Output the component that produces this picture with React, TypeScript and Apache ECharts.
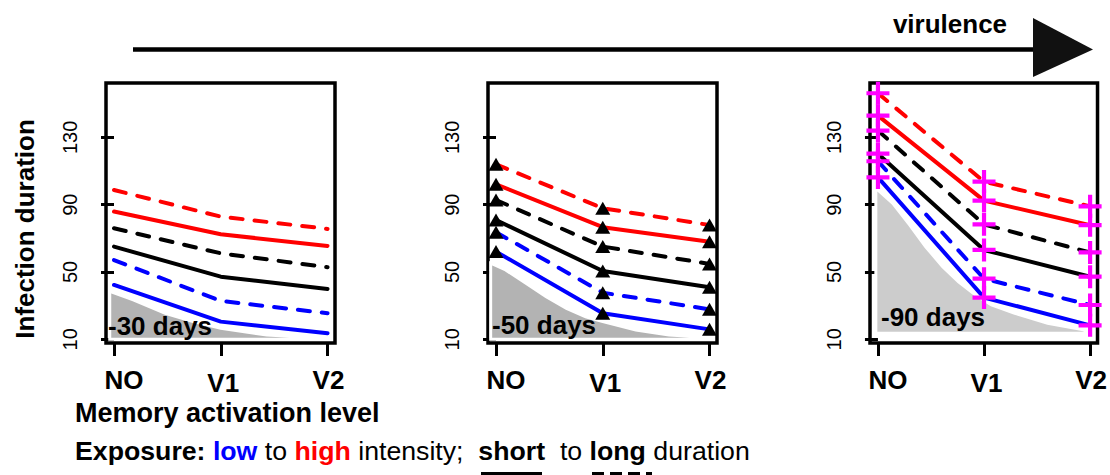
import React, { useEffect, useRef } from 'react';
import * as echarts from 'echarts';

const categories = ['NO', 'V1', 'V2'];
const catX = [0, 1, 2];
const yTickValues = [10, 50, 90, 130];
const panelLabels = ['-30 days', '-50 days', '-90 days'];

// Panel 1: -30 days
const p1RedDashed = [98.7, 82.9, 75.6];
const p1RedSolid = [85.9, 72.4, 65.5];
const p1BlackDashed = [76.0, 61.1, 52.8];
const p1BlackSolid = [65.1, 47.2, 39.9];
const p1BlueDashed = [57.1, 32.8, 25.5];
const p1BlueSolid = [42.3, 20.5, 13.6];
const p1GreyX = [-0.04, 0.18, 0.48, 0.74, 1.0, 1.43, 1.99];
const p1GreyY = [38.5, 33.4, 25.5, 20.5, 16.5, 12.6, 10.6];
const p1GreyBase = 10;

// Panel 2: -50 days
const p2RedDashed = [114.0, 87.9, 77.9];
const p2RedSolid = [102.1, 76.6, 68.0];
const p2BlackDashed = [92.8, 65.1, 54.8];
const p2BlackSolid = [80.9, 50.6, 40.9];
const p2BlueDashed = [73.6, 37.7, 27.8];
const p2BlueSolid = [62.1, 25.5, 15.9];
const p2GreyX = [-0.05, 0.09, 0.28, 0.47, 0.66, 0.84, 1.0, 1.31, 1.62, 1.97];
const p2GreyY = [55.2, 51.2, 43.3, 35.3, 28.4, 23.4, 20.5, 15.5, 12.6, 11.2];
const p2GreyBase = 10;

// Panel 3: -90 days
const p3RedDashed = [156.2, 103.7, 89.0];
const p3RedSolid = [142.9, 92.4, 77.8];
const p3BlackDashed = [134.0, 78.3, 61.6];
const p3BlackSolid = [120.3, 63.1, 47.2];
const p3BlueDashed = [115.8, 46.0, 30.4];
const p3BlueSolid = [106.2, 34.8, 18.3];
const p3GreyX = [-0.02, 0.14, 0.30, 0.45, 0.61, 0.76, 0.92, 1.07, 1.29, 1.60, 1.95];
const p3GreyY = [99.8, 90.8, 77.9, 65.0, 53.2, 44.2, 36.3, 30.4, 25.5, 19.5, 15.5];
const p3GreyBase = 13.6;

const FONT = '"Liberation Sans", Arial, Helvetica, sans-serif';

const RED = '#ff0000';
const BLUE = '#0000ff';
const BLACK = '#000000';
const MAGENTA = '#ff00ff';

const PLUS = 'path://M4.5,0h2v4.5h4.5v2h-4.5v4.5h-2v-4.5h-4.5v-2h4.5z';

const panels = [
  {
    lines: [p1RedDashed, p1RedSolid, p1BlackDashed, p1BlackSolid, p1BlueDashed, p1BlueSolid],
    greyX: p1GreyX, greyY: p1GreyY, greyBase: p1GreyBase, greyFill: '#b3b3b3',
    symbol: 'none', symbolSize: 0, symbolColor: BLACK,
    left: 106, label: { x: 108, y: 326 },
  },
  {
    lines: [p2RedDashed, p2RedSolid, p2BlackDashed, p2BlackSolid, p2BlueDashed, p2BlueSolid],
    greyX: p2GreyX, greyY: p2GreyY, greyBase: p2GreyBase, greyFill: '#b3b3b3',
    symbol: 'triangle', symbolSize: [15, 13], symbolColor: BLACK,
    left: 488, label: { x: 492, y: 325 },
  },
  {
    lines: [p3RedDashed, p3RedSolid, p3BlackDashed, p3BlackSolid, p3BlueDashed, p3BlueSolid],
    greyX: p3GreyX, greyY: p3GreyY, greyBase: p3GreyBase, greyFill: '#cccccc',
    symbol: PLUS, symbolSize: 23, symbolColor: MAGENTA,
    left: 870, label: { x: 881, y: 317 },
  },
];

const lineStyles = [
  { color: RED, dashed: true },
  { color: RED, dashed: false },
  { color: BLACK, dashed: true },
  { color: BLACK, dashed: false },
  { color: BLUE, dashed: true },
  { color: BLUE, dashed: false },
];

function buildOption() {
  const grid: any[] = [];
  const xAxis: any[] = [];
  const yAxis: any[] = [];
  const series: any[] = [];
  const graphic: any[] = [];

  panels.forEach((p, pi) => {
    grid.push({
      left: p.left, top: 83, width: 229, height: 260,
      show: true, borderColor: '#000', borderWidth: 3.5, backgroundColor: 'transparent',
      containLabel: false,
    });
    xAxis.push({
      type: 'value', gridIndex: pi, min: -0.075, max: 2.07,
      axisLine: { show: false },
      splitLine: { show: false },
      axisTick: { show: true, customValues: catX, length: 13, lineStyle: { color: '#000', width: 3 } },
      axisLabel: {
        customValues: catX,
        margin: 24,
        formatter: (v: number) => {
          const i = Math.round(v);
          return `{c${i}|${categories[i]}}`;
        },
        rich: {
          c0: { fontSize: 26, fontWeight: 'bold', fontFamily: FONT, color: '#000', padding: [0, 0, 0, 20] },
          c1: { fontSize: 26, fontWeight: 'bold', fontFamily: FONT, color: '#000', padding: [3, 0, 0, 5] },
          c2: { fontSize: 26, fontWeight: 'bold', fontFamily: FONT, color: '#000', padding: [0, 0, 0, 2] },
        },
      },
    });
    yAxis.push({
      type: 'value', gridIndex: pi, min: 7.8, max: 162.3,
      axisLine: { show: false },
      splitLine: { show: false },
      axisTick: { show: true, customValues: yTickValues, length: 13, lineStyle: { color: '#000', width: 3 } },
      axisLabel: {
        customValues: yTickValues,
        rotate: 90,
        margin: 26,
        fontSize: 20,
        fontFamily: FONT,
        color: '#000',
      },
    });

    const gx = p.greyX;
    const gy = p.greyY;
    const base = p.greyBase;
    const fill = p.greyFill;
    series.push({
      type: 'custom',
      xAxisIndex: pi, yAxisIndex: pi,
      z: 1,
      silent: true,
      data: gx.map((x, i) => [x, gy[i]]),
      encode: { x: 0, y: 1 },
      renderItem: (params: any, api: any) => {
        if (params.dataIndex !== 0) return null;
        const pts: number[][] = [];
        pts.push(api.coord([gx[0], base]));
        gx.forEach((x, i) => pts.push(api.coord([x, gy[i]])));
        pts.push(api.coord([gx[gx.length - 1], base]));
        return {
          type: 'polygon',
          shape: { points: pts },
          style: { fill, stroke: '#ffffff', lineWidth: 3 },
        };
      },
    });

    p.lines.forEach((vals, li) => {
      const st = lineStyles[li];
      series.push({
        type: 'line',
        xAxisIndex: pi, yAxisIndex: pi,
        z: 3,
        data: vals.map((v, i) => [catX[i], v]),
        symbol: p.symbol,
        symbolSize: p.symbolSize,
        showSymbol: p.symbol !== 'none',
        itemStyle: { color: p.symbolColor, opacity: 1 },
        lineStyle: {
          color: st.color, width: 4, cap: 'round',
          type: st.dashed ? [12, 12] : 'solid',
        },
        emphasis: { disabled: true },
      });
    });

    graphic.push({
      type: 'text', z: 10,
      style: {
        text: panelLabels[pi], x: p.label.x, y: p.label.y,
        verticalAlign: 'middle', align: 'left',
        font: `bold 26px ${FONT}`, fill: '#000',
      },
    });
  });

  // virulence arrow
  graphic.push({
    type: 'line', z: 10,
    shape: { x1: 133, y1: 49.5, x2: 1040, y2: 49.5 },
    style: { stroke: '#000', lineWidth: 4.5 },
  });
  graphic.push({
    type: 'polygon', z: 11,
    shape: { points: [[1033, 18], [1033, 77], [1093, 49.5]] },
    style: { fill: '#111' },
  });
  graphic.push({
    type: 'text', z: 10,
    style: {
      text: 'virulence', x: 950, y: 24, align: 'center', verticalAlign: 'middle',
      font: `bold 26px ${FONT}`, fill: '#000',
    },
  });
  // y title
  graphic.push({
    type: 'text', z: 10, x: 25, y: 229, rotation: Math.PI / 2,
    style: {
      text: 'Infection duration', x: 0, y: 0, align: 'center', verticalAlign: 'middle',
      font: `bold 26px ${FONT}`, fill: '#000',
    },
  });
  // x title
  graphic.push({
    type: 'text', z: 10,
    style: {
      text: 'Memory activation level', x: 75, y: 413, align: 'left', verticalAlign: 'middle',
      font: `bold 27px ${FONT}`, fill: '#000',
    },
  });
  // exposure legend
  graphic.push({
    type: 'text', z: 10,
    style: {
      text: '{b|Exposure:} {bl|low} to {rd|high} intensity;  {b|short}  to {b|long} duration',
      x: 75, y: 451, align: 'left', verticalAlign: 'middle',
      font: `26.7px ${FONT}`, fill: '#000',
      rich: {
        b: { fontWeight: 'bold', fontSize: 26.7, fontFamily: FONT, fill: '#000' },
        bl: { fontWeight: 'bold', fontSize: 26.7, fontFamily: FONT, fill: BLUE },
        rd: { fontWeight: 'bold', fontSize: 26.7, fontFamily: FONT, fill: RED },
      },
    },
  });
  graphic.push({
    type: 'line', z: 10,
    shape: { x1: 481, y1: 474, x2: 542, y2: 474 },
    style: { stroke: '#000', lineWidth: 4 },
  });
  graphic.push({
    type: 'line', z: 10,
    shape: { x1: 592, y1: 474, x2: 652, y2: 474 },
    style: { stroke: '#000', lineWidth: 4, lineDash: [12, 6] },
  });

  return {
    animation: false,
    backgroundColor: '#ffffff',
    grid, xAxis, yAxis, series, graphic,
  };
}

export default function App() {
  const ref = useRef<HTMLDivElement>(null);
  useEffect(() => {
    if (!ref.current) return;
    const chart = echarts.init(ref.current, undefined, { renderer: 'svg' });
    chart.setOption(buildOption() as any);
    return () => chart.dispose();
  }, []);
  return (
    <div
      ref={ref}
      style={{ position: 'fixed', left: 0, top: 0, width: 1110, height: 475, background: '#fff' }}
    />
  );
}
